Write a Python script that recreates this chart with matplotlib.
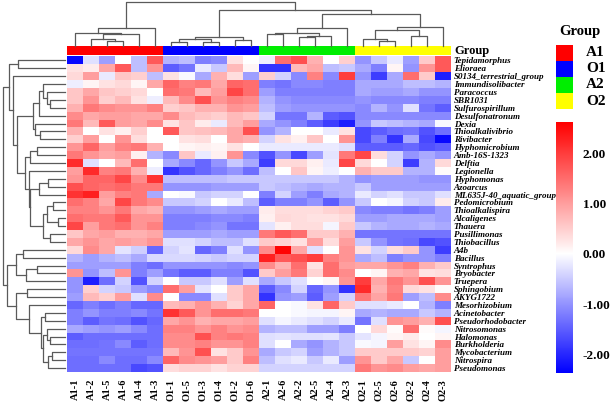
import matplotlib
matplotlib.use("Agg")
import matplotlib.pyplot as plt
import numpy as np
from matplotlib.colors import LinearSegmentedColormap, ListedColormap, Normalize

# ---- data ----
genera = ["Tepidamorphus", "Elioraea", "S0134_terrestrial_group", "Immundisolibacter",
          "Paracoccus", "SBR1031", "Sulfurospirillum", "Desulfonatronum", "Dexia",
          "Thioalkalivibrio", "Rivibacter", "Hyphomicrobium", "Amb-16S-1323", "Delftia",
          "Legionella", "Hyphomonas", "Azoarcus", "ML635J-40_aquatic_group", "Pedomicrobium",
          "Thioalkalispira", "Alcaligenes", "Thauera", "Pusillimonas", "Thiobacillus", "A4b",
          "Bacillus", "Syntrophus", "Bryobacter", "Truepera", "Sphingobium", "AKYG1722",
          "Mesorhizobium", "Acinetobacter", "Pseudorhodobacter", "Nitrosomonas", "Halomonas",
          "Burkholderia", "Mycobacterium", "Nitrospira", "Pseudomonas"]

samples = ["A1-1", "A1-2", "A1-5", "A1-6", "A1-4", "A1-3",
           "O1-1", "O1-5", "O1-3", "O1-4", "O1-2", "O1-6",
           "A2-1", "A2-6", "A2-2", "A2-5", "A2-4", "A2-3",
           "O2-1", "O2-5", "O2-6", "O2-2", "O2-4", "O2-3"]

groups = ["A1", "O1", "A2", "O2"]
group_colors = ["#ff0000", "#0000ff", "#00ee00", "#ffff00"]

# z-scores, one row per genus, columns in the order of `samples`
zscores = [
    [-2.3, -0.3, -0.9, 0.0, -0.6, 1.7, -0.7, -0.6, -1.2, -1.1, 0.3, 0.0, -0.15, 1.5, 1.8, 0.8, 0.0, 0.5, -1.0, -0.5, -0.2, -0.9, 0.55, 1.7],
    [0.3, 0.2, 0.9, 1.7, -0.6, 1.1, -1.5, -1.3, -0.2, -0.5, 0.7, 0.1, -1.9, -1.9, 0.7, 0.9, -0.6, -0.5, -0.8, -1.2, 0.1, -1.0, 1.1, 1.7],
    [0.4, 1.0, -0.2, 0.6, 0.5, -0.6, 0.3, -0.05, -0.8, 0.8, 0.35, -0.9, 0.5, -0.4, -1.1, 1.3, -1.1, 2.0, -1.0, -1.8, -0.8, 1.5, 0.55, -2.1],
    [-0.15, 0.1, 0.3, 0.4, 0.1, 0.9, 1.6, 1.3, 1.4, 0.9, 1.6, 1.5, -1.2, -1.3, -1.1, -1.1, -1.2, -1.2, -0.8, -0.8, -0.8, -0.6, -0.6, -0.7],
    [0.6, 0.9, 0.6, 0.5, 0.4, 0.0, 1.5, 1.4, 0.7, 1.0, 1.9, 1.5, -0.9, -1.2, -1.2, -1.2, -1.2, -1.2, -0.8, -0.9, -0.9, -0.8, -1.0, -1.0],
    [0.6, 1.1, 0.5, 0.7, 0.3, -0.15, 0.7, 1.2, 1.8, 1.1, 1.3, 1.2, -0.7, -1.0, -1.1, -1.1, -1.1, -1.1, -1.0, -1.1, -1.1, -1.1, -1.2, -1.2],
    [0.8, 1.4, 1.2, 1.1, 1.1, 1.3, 0.5, 0.6, 0.8, 0.8, 1.1, 1.0, -0.6, -0.9, -1.0, -1.0, -1.0, -1.0, -1.1, -0.7, -1.0, -0.3, -1.3, -1.5],
    [1.2, 0.9, 1.0, 1.0, 0.9, 0.9, 1.2, 0.7, 0.6, 0.5, 0.7, 0.6, -0.4, -1.3, -1.3, -0.7, -1.5, -1.6, -1.1, -1.1, -1.1, -1.1, -1.1, -1.1],
    [1.4, 0.7, 1.7, 1.0, 0.9, 1.2, 0.3, 0.6, 0.2, -0.2, 0.7, 1.0, -0.8, -1.0, -1.2, -1.5, -1.8, -2.1, -1.0, -0.5, -0.6, -0.7, -0.8, -0.05],
    [0.8, 0.0, 0.3, 0.15, 0.5, 0.0, 1.7, 0.6, 0.65, 0.7, 0.9, 1.8, -1.0, -0.7, 0.0, 0.0, -0.2, 0.3, -1.7, -1.5, -1.35, -1.3, -1.6, -1.35],
    [0.5, 1.0, 0.0, 1.1, 0.35, 0.0, 0.0, 0.3, 0.35, 0.0, 0.9, 0.8, -0.4, 0.3, 0.15, 0.6, 0.0, 1.1, -1.7, -1.2, -1.9, -0.8, -1.7, -2.3],
    [1.1, 1.6, 1.0, 1.3, 1.4, 0.8, 0.0, 0.1, 0.15, 0.1, 0.3, 0.0, -0.2, -0.2, -0.2, -0.2, -0.2, -0.3, -1.5, -1.5, -1.5, -1.4, -1.6, -1.5],
    [1.4, 1.1, 0.9, 1.0, 0.15, -0.7, -1.1, 0.6, -0.2, 0.15, 1.1, -1.1, -1.6, -1.0, -1.7, -0.9, -0.25, 1.4, 1.9, 0.35, -0.4, -1.0, -0.8, -1.0],
    [2.2, -0.3, 0.0, 0.7, 1.5, 0.0, -0.8, -1.1, -1.4, -1.0, -0.5, -0.8, -1.8, 0.4, 0.4, 0.15, -0.2, 1.9, 0.4, 0.0, -0.4, -1.8, -0.7, 0.4],
    [1.0, 2.2, 1.3, 1.4, 0.8, -0.15, -1.9, -1.6, -1.4, -1.2, -1.0, -1.35, -0.6, 0.0, 0.6, 0.1, -0.15, 0.0, 0.8, 0.55, 0.55, -0.7, -0.7, 0.05],
    [1.1, 1.6, 1.6, 1.9, 1.2, 2.1, -0.6, -0.6, -0.6, -0.6, -0.5, -0.5, -0.5, -0.5, -0.5, -0.5, -0.5, -0.7, -1.0, -0.9, -0.9, -0.9, -1.0, -1.0],
    [1.8, 1.6, 1.5, 1.6, 1.4, 1.4, -1.0, -1.0, -1.0, -0.9, -0.9, -0.9, -0.5, -0.6, -0.7, -0.8, -0.7, -0.7, -0.5, -0.9, -0.9, -0.9, -0.9, -0.9],
    [2.1, 2.3, 1.0, 1.3, 1.4, -0.8, 0.0, -0.05, -0.5, -0.4, -0.4, 0.0, -1.2, -0.4, -0.9, -1.2, -0.8, -0.7, -0.2, -0.4, -0.3, -0.5, -0.5, -0.3],
    [1.5, 1.3, 0.9, 1.9, 1.4, 1.2, -0.5, -0.5, -0.4, 0.0, -0.2, -0.6, -1.5, -1.2, -1.2, -1.0, -1.5, -1.0, -0.5, 0.0, -0.1, -0.4, -0.5, 0.2],
    [1.3, 1.3, 1.1, 1.4, 0.9, 0.8, -1.0, -1.0, -0.9, -0.8, -0.9, -0.9, 0.2, 0.35, 0.35, 0.35, 0.45, 0.55, -1.1, -1.2, -1.2, -1.3, -1.2, -0.9],
    [1.5, 1.4, 1.4, 1.7, 1.1, 1.1, -1.2, -1.2, -1.2, -1.1, -1.1, -1.2, 0.15, 0.4, 0.35, 0.3, 0.3, 0.4, -0.9, -0.9, -0.8, -0.8, -0.8, -0.9],
    [1.9, 1.0, 1.4, 1.5, 1.1, 1.3, -1.2, -1.2, -1.1, -1.0, -1.3, -1.3, -0.25, 0.15, 0.35, 0.35, -0.1, 0.55, -0.5, -0.7, -0.8, -0.8, -0.7, -0.8],
    [0.6, 0.9, 1.0, 0.8, 0.8, 0.9, -0.9, -0.9, -0.9, -0.8, -0.9, -0.9, 1.4, 1.7, 1.5, 0.55, 0.55, 0.8, -1.3, -1.3, -1.3, -1.3, -1.3, -1.3],
    [0.9, 1.1, 0.9, 1.0, 0.9, 1.1, -0.3, -0.3, -0.4, -0.6, -0.6, -0.3, 0.55, 0.45, 0.3, 1.0, 0.35, 1.0, -0.5, -1.0, -1.3, -1.35, -1.7, -1.6],
    [0.4, 1.2, 0.9, -0.25, -0.45, -1.4, -0.4, -0.25, -1.4, -1.2, -0.3, -1.0, 1.2, 2.6, 0.9, -0.3, 0.0, 1.1, 0.3, -0.4, 0.35, 0.55, -1.0, -1.8],
    [-0.7, -0.9, -0.7, -0.6, -0.8, -0.35, -0.35, -0.35, -0.4, -0.5, -0.4, -0.4, 2.3, 1.7, 1.8, 2.0, 1.3, 1.1, -0.8, -0.6, -1.2, -1.0, -1.0, -1.2],
    [-0.9, -0.9, -0.9, -0.9, -1.2, -1.35, -1.0, -1.0, -1.0, -1.0, -1.1, -1.0, 1.2, 0.8, 1.5, 0.3, 1.5, 1.0, 0.9, 0.9, 1.1, 1.3, 0.8, 0.55],
    [1.1, -1.0, -0.6, 1.1, -1.2, -0.9, -1.3, -1.5, -1.5, -1.2, -1.2, -1.6, 0.55, 1.0, 1.4, 0.45, 1.5, 1.2, 0.0, 0.1, 0.8, 0.9, 0.3, 0.35],
    [-1.0, -2.1, -1.35, -0.4, -1.6, -0.4, 0.0, -0.5, -0.5, -0.3, -0.9, -0.3, -0.8, -0.5, -0.3, 0.0, 0.1, 1.1, 2.0, 0.9, 1.4, 1.1, 1.8, 1.1],
    [-1.0, 0.5, -0.4, -0.5, -0.9, -1.1, 1.5, 1.0, -0.25, 0.0, 0.55, 0.9, -1.5, -1.1, -0.4, -1.4, -1.0, -1.9, 2.2, 0.8, 1.3, 0.4, 0.3, 0.05],
    [-0.9, 0.7, 0.5, 1.0, -0.3, 1.2, 0.0, -1.1, -1.1, -0.3, 0.55, 0.9, -1.9, -1.0, -0.9, -1.5, -0.9, -0.4, 1.4, 0.95, 1.4, -0.9, -0.6, 1.2],
    [-1.4, -1.2, -1.35, -1.2, -1.4, -1.4, 0.7, 0.8, 1.1, 0.8, 0.45, 0.9, 1.6, 0.0, -0.05, 0.3, 1.6, 0.55, -0.3, -0.3, -0.2, 0.0, -0.7, -1.2],
    [-1.2, -1.0, -1.2, -1.2, -1.1, -1.3, 2.1, 1.7, 1.1, 1.5, 1.5, 1.4, 0.0, 0.0, -0.05, -0.1, -0.1, 0.1, -0.8, -0.7, -0.8, -0.8, -0.5, -0.7],
    [-1.2, -1.5, -1.3, -1.35, -1.6, -1.4, 0.9, 1.1, 0.8, 0.9, 0.9, 1.0, -0.3, -0.1, -0.2, -0.3, -0.4, -0.2, -1.3, -0.3, 1.1, 1.0, 0.8, 1.8],
    [-0.8, -0.9, -1.0, -0.9, -1.1, -1.35, 1.3, 1.3, 1.1, 1.3, 1.1, 1.2, -0.7, -0.6, -0.6, -0.9, -0.9, -1.2, 0.0, 0.4, 0.05, 1.5, 0.05, -0.1],
    [-1.5, -1.35, -1.35, -1.35, -1.35, -1.35, 1.2, 1.2, 1.8, 1.3, 1.4, 1.3, -0.3, -0.25, -0.3, -0.3, -0.25, -0.5, -0.25, -0.1, 0.1, 0.2, 0.0, 0.1],
    [-1.35, -1.35, -1.3, -1.1, -1.5, -1.35, 1.2, 1.2, 1.3, 1.1, 1.1, 1.3, -0.3, 0.0, -0.8, -1.0, -0.7, -0.5, -0.05, -0.1, 1.0, 0.3, 0.1, 1.2],
    [-1.3, -1.3, -1.3, -1.3, -1.3, -1.3, 0.7, 1.1, 1.8, 0.3, 0.55, 1.1, -0.8, -0.5, -0.4, -0.9, -0.7, -0.5, 0.55, 0.55, 0.55, 0.55, 0.45, 1.0],
    [-1.35, -1.35, -1.1, -1.35, -1.35, -1.1, 1.6, 1.2, 1.1, 1.0, 0.55, 1.3, -0.6, -0.3, -0.2, -0.5, -0.2, -0.9, 1.1, 0.55, 0.9, -0.5, 0.0, 1.0],
    [-1.35, -1.35, -1.35, -1.35, -1.7, -1.6, 0.35, 0.45, 0.45, 0.3, 0.45, 0.45, -0.4, -0.4, -0.4, -0.4, -0.4, -0.4, 1.4, 1.1, 1.2, 1.0, 0.9, 1.0],
]

# clustering trees: (left, right, height); leaves are display positions
a1_tree = ((0, ((1, (2, 3, 0.115), 0.154), 4, 0.26), 0.285), 5, 0.40)
o1_tree = (((6, 7, 0.092), (8, 9, 0.077), 0.16), (10, 11, 0.13), 0.192)
a2_tree = (((12, 13, 0.28), ((14, 15, 0.19), 16, 0.23), 0.30), 17, 0.40)
o2_tree = (((18, (19, 20, 0.10), 0.154), (21, 22, 0.23), 0.36), 23, 0.44)
col_tree = (a1_tree, (o1_tree, (a2_tree, o2_tree, 0.73), 0.823), 1.0)

top_a = ((3, (4, (5, 6, 0.241), 0.294), 0.348), 7, 0.412)
top_b = (8, (9, 10, 0.401), 0.481)
mid_p = ((11, 12, 0.455), 13, 0.561)
mid_q = ((15, 16, 0.267), 17, 0.412)
mid_r = (((18, 19, 0.187), (20, 21, 0.107), 0.294), (22, 23, 0.241), 0.348)
mid_w = (14, (mid_q, mid_r, 0.567), 0.583)
top_cluster = ((0, 1, 0.75), (2, ((top_a, top_b, 0.508), (mid_p, mid_w, 0.642), 0.765), 0.829), 0.893)
low_u = ((24, 25, 0.679), ((26, 27, 0.444), 28, 0.626), 0.786)
low_v4 = ((34, (35, 36, 0.241), 0.294), ((37, 38, 0.214), 39, 0.267), 0.348)
low_v = (31, ((32, 33, 0.32), low_v4, 0.39), 0.572)
low_cluster = (low_u, ((29, 30, 0.615), low_v, 0.786), 0.936)
row_tree = (top_cluster, low_cluster, 1.0)

# ---- drawing ----
plt.rcParams['font.family'] = ['Liberation Serif', 'DejaVu Serif']
W, H = 616, 411
fig = plt.figure(figsize=(W / 100, H / 100), dpi=100)


def px_axes(x0, y0, x1, y1):
    # box in pixels, y measured from the top
    return fig.add_axes([x0 / W, 1 - y1 / H, (x1 - x0) / W, (y1 - y0) / H])


def draw_tree(ax, node, vertical):
    if isinstance(node, int):
        return node + 0.5, 0.0
    left, right, h = node
    p1, h1 = draw_tree(ax, left, vertical)
    p2, h2 = draw_tree(ax, right, vertical)
    if vertical:
        ax.plot([p1, p1, p2, p2], [h1, h, h, h2], color="#5a5a5a", lw=0.9, clip_on=False)
    else:
        ax.plot([h1, h, h, h2], [p1, p1, p2, p2], color="#5a5a5a", lw=0.9, clip_on=False)
    return (p1 + p2) / 2, h


vmin, vmax = -2.38, 2.64
cmap = LinearSegmentedColormap.from_list(
    "bwr_z", [(0.0, "#0000ff"), (-vmin / (vmax - vmin), "#ffffff"), (1.0, "#ff0000")])
norm = Normalize(vmin=vmin, vmax=vmax)

ax = px_axes(67, 56.5, 451, 372)
mesh = ax.pcolormesh(np.array(zscores), cmap=cmap, norm=norm)
ax.set_xlim(0, len(samples))
ax.set_ylim(len(genera), 0)
for s in ax.spines.values():
    s.set_visible(False)
ax.set_yticks(np.arange(len(genera)) + 0.5)
ax.set_yticklabels(genera, fontsize=6.5, fontweight="bold", fontstyle="italic")
ax.yaxis.tick_right()
ax.set_xticks(np.arange(len(samples)) + 0.5)
ax.set_xticklabels(samples, rotation=90, fontsize=7.5, fontweight="bold")
ax.tick_params(axis="y", length=0, pad=2)
ax.tick_params(axis="x", length=0, pad=5)

# group strip
axg = px_axes(67, 45.7, 451, 55.5)
group_idx = [groups.index(s.split("-")[0]) for s in samples]
axg.pcolormesh(np.array([group_idx]), cmap=ListedColormap(group_colors), vmin=-0.5, vmax=3.5)
axg.set_xlim(0, len(samples))
axg.axis("off")
axg.text(1.008, 0.45, "Group", transform=axg.transAxes, fontsize=9,
         fontweight="bold", va="center", ha="left")

# dendrograms
axc = px_axes(67, 2.3, 451, 45.7)
draw_tree(axc, col_tree, True)
axc.set_xlim(0, len(samples))
axc.set_ylim(0, 1.0)
axc.axis("off")

axr = px_axes(2.7, 56.5, 65, 372)
draw_tree(axr, row_tree, False)
axr.set_xlim(1.0, 0)
axr.set_ylim(len(genera), 0)
axr.axis("off")

# group legend
fig.text(580 / W, 1 - 32 / H, "Group", fontsize=10.5, fontweight="bold", ha="center", va="center")
axl = px_axes(556, 44.7, 573, 109)
axl.pcolormesh(np.arange(len(groups))[:, None], cmap=ListedColormap(group_colors), vmin=-0.5, vmax=3.5)
axl.set_ylim(len(groups), 0)
axl.axis("off")
for i, g in enumerate(groups):
    fig.text(586 / W, 1 - (44.7 + 16.1 * (i + 0.5)) / H, g, fontsize=11,
             fontweight="bold", ha="left", va="center")

# colour bar
cax = px_axes(556, 122, 573, 373)
cb = fig.colorbar(mesh, cax=cax, ticks=[-2, -1, 0, 1, 2], format="%.2f")
cb.outline.set_visible(False)
cax.tick_params(length=0, pad=7)
for t in cax.get_yticklabels():
    t.set_fontsize(9.5)
    t.set_fontweight("bold")

fig.savefig("out.png", dpi=100)
